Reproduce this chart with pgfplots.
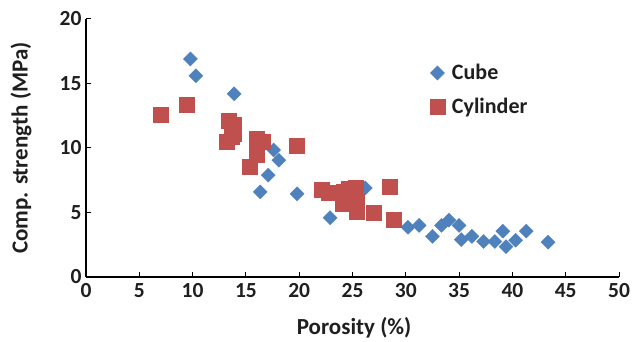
\documentclass[border=0pt]{standalone}
\usepackage{pgfplots}
\pgfplotsset{compat=1.18}
\usepackage{fontspec}
\setmainfont{Carlito}[BoldFont={Carlito Bold}]
\definecolor{cubeblue}{HTML}{4F81BD}
\definecolor{cylred}{HTML}{C0504D}

\begin{document}
\begin{tikzpicture}
\useasboundingbox (-86pt,-65pt) rectangle (546pt,277pt);
\begin{axis}[
  scale only axis,
  width=533pt, height=258pt,
  xmin=0, xmax=50, ymin=0, ymax=20,
  xtick={0,5,...,50}, ytick={0,5,...,20},
  axis lines=left,
  axis line style={-, line width=1.6pt, black},
  tick style={black, line width=1pt},
  major tick length=5pt,
  tick align=inside,
  /pgf/number format/assume math mode=true,
  ticklabel style={font=\bfseries\fontsize{21.5}{21.5}\selectfont, text=black!88},
  xticklabel style={yshift=-3pt},
  yticklabel style={xshift=-1pt},
  xlabel={Porosity (\%)},
  ylabel={Comp. strength (MPa)},
  label style={font=\bfseries\fontsize{23}{23}\selectfont, text=black!88},
  xlabel style={at={(axis description cs:0.503,-0.198)}, anchor=center},
  ylabel style={at={(axis description cs:-0.122,0.5)}, anchor=center},
  legend style={draw=none, fill=none, at={(0.645,0.832)}, anchor=north west,
    inner sep=0pt, row sep=13pt,
    nodes={inner xsep=7pt},
    font=\bfseries\fontsize{22}{22}\selectfont, text=black!88},
  legend cell align=left,
  clip=false,
]
% Cube specimens
\addplot[only marks, mark=square*, mark size=4.95pt,
  mark options={rotate=45, draw=cubeblue, fill=cubeblue}] coordinates {
  (9.8,16.9) (10.3,15.6) (13.9,14.2) (16.35,6.6) (17.1,7.9) (17.6,9.85)
  (18.1,9.05) (19.8,6.45) (22.9,4.6) (24.5,6.2) (26.2,6.9) (30.2,3.85)
  (31.25,4.0) (32.5,3.15) (33.35,4.0) (34.05,4.4) (35.0,4.0) (35.2,2.9)
  (36.2,3.15) (37.3,2.75) (38.35,2.75) (39.1,3.55) (39.4,2.35) (40.3,2.85)
  (41.3,3.55) (43.35,2.7)
};
\addlegendentry{Cube}
% Cylinder specimens
\addplot[only marks, mark=square*, mark size=7.5pt,
  mark options={draw=cylred, fill=cylred}] coordinates {
  (7.0,12.55) (9.4,13.35) (13.4,12.1) (13.85,11.8) (13.9,11.1) (13.7,10.9)
  (13.2,10.45) (16.0,10.75) (16.6,10.45) (16.0,9.5) (15.35,8.55) (19.8,10.15)
  (22.1,6.8) (22.8,6.5) (24.15,6.6) (24.1,5.7) (24.6,6.85) (25.3,6.9)
  (25.4,5.8) (25.4,5.05) (27.0,4.95) (28.5,7.0) (28.85,4.45)
};
\addlegendentry{Cylinder}
\end{axis}
\end{tikzpicture}
\end{document}
